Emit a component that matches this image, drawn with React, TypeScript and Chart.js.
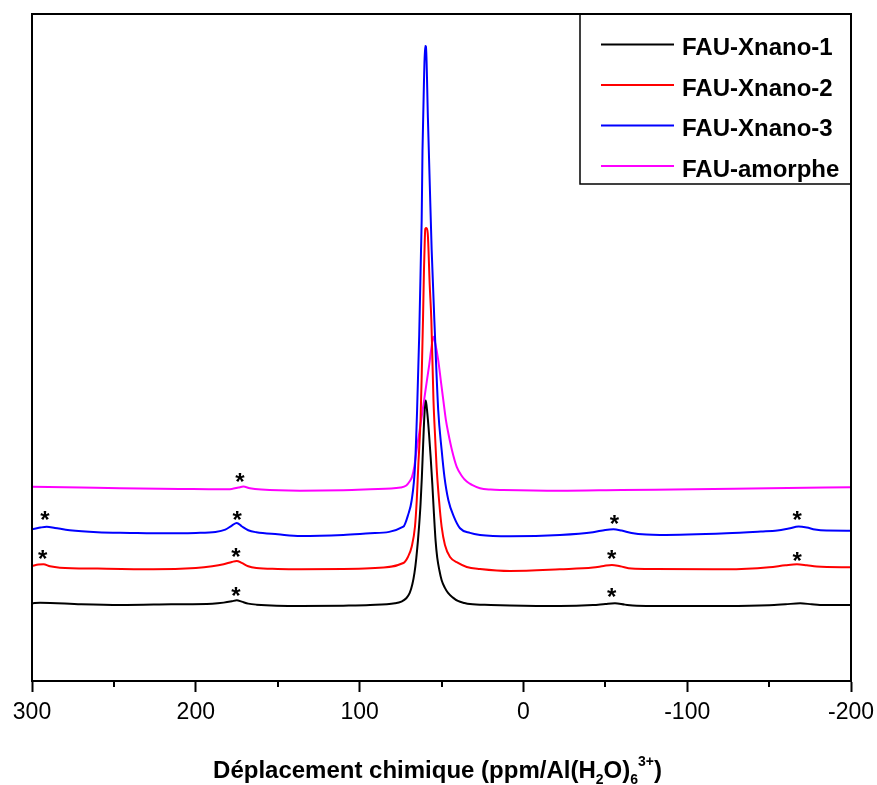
import React, { useEffect, useRef } from 'react';
import { Chart, registerables } from 'chart.js';

Chart.register(...registerables);

const W = 877;
const H = 785;
const FONT = "'Liberation Sans', Arial, sans-serif";

// x-axis ticks (ppm), reversed axis
const X_MIN = -200;
const X_MAX = 300;
const MAJOR_STEP = 100;
const MINOR_TICKS = [250, 150, 50, -50, -150];

// Series labels and colours
const LABELS = ['FAU-Xnano-1', 'FAU-Xnano-2', 'FAU-Xnano-3', 'FAU-amorphe'];
const COLORS = ['#000000', '#ff0000', '#0000ff', '#ff00ff'];

// FAU-Xnano-1 (black)
const PPM_1 = [300, 295, 270, 246, 215, 190, 183, 178, 175, 172, 168, 163, 136, 110, 93.6, 78.4, 74.5, 71.5, 69.4, 67.8, 66.5, 65.4, 64.4, 63.6, 62.8, 62.0, 61.2, 60.4, 59.6, 58.6, 57.6, 56.6, 55.6, 54.6, 53.6, 52.6, 51.3, 49.9, 48.0, 46.0, 43.0, 40.0, 36.0, 32.6, 20, 8.2, -22.3, -42.5, -50, -55.9, -62, -69.2, -100, -124.1, -150, -160, -169, -176, -181, -200];
const INT_1 = [11.65, 11.74, 11.5, 11.39, 11.5, 11.6, 11.75, 11.95, 12.1, 11.9, 11.6, 11.45, 11.24, 11.3, 11.39, 11.65, 11.9, 12.4, 13.2, 14.5, 16.2, 18.4, 21.0, 23.5, 26.5, 30.5, 35.5, 40.0, 42.1, 40.0, 37.0, 33.5, 29.5, 25.0, 21.0, 18.5, 16.6, 15.1, 14.0, 13.2, 12.5, 12.0, 11.7, 11.54, 11.4, 11.32, 11.24, 11.39, 11.55, 11.65, 11.45, 11.29, 11.24, 11.24, 11.35, 11.5, 11.65, 11.5, 11.4, 11.39];

// FAU-Xnano-2 (red)
const PPM_2 = [300, 296, 293, 289, 283, 260, 226, 200, 190, 183, 178, 175, 172, 168, 163, 150, 136, 110, 93.6, 73.3, 70.5, 68.2, 66.2, 65.1, 64.2, 62.8, 62.0, 61.3, 60.7, 60.2, 59.9, 59.2, 58.4, 57.2, 56.2, 54.9, 53.8, 53.0, 51.5, 49.9, 47.9, 44.8, 39.9, 34.6, 26.5, 8.2, -22.3, -42.5, -49, -54, -59, -66, -80, -124, -150, -160, -167, -173, -179, -200];
const INT_2 = [17.24, 17.45, 17.5, 17.2, 16.99, 16.85, 16.75, 16.95, 17.2, 17.5, 17.85, 18.0, 17.7, 17.2, 16.95, 16.8, 16.75, 16.8, 16.9, 17.69, 18.6, 20.13, 23.13, 27.14, 32.13, 39.13, 46.63, 54.12, 61.62, 66.12, 67.77, 67.9, 67.1, 59.4, 54.1, 42.1, 36.1, 32.1, 27.1, 23.1, 20.4, 18.6, 17.7, 17.1, 16.8, 16.5, 16.75, 17.0, 17.25, 17.4, 17.2, 16.85, 16.78, 16.75, 17.05, 17.35, 17.5, 17.35, 17.15, 17.05];

// FAU-Xnano-3 (blue)
const PPM_3 = [300, 295, 291, 286, 277, 260, 240, 226, 200, 188, 182, 178, 175, 172, 168, 163, 150, 136, 110, 93.6, 73.3, 70.4, 68.2, 66.2, 64.9, 63.6, 62.5, 62.1, 61.6, 60.6, 60.0, 59.5, 58.3, 57.2, 56.0, 54.0, 52.0, 49.9, 48.2, 45.8, 42.4, 38.7, 32.6, 26.5, 8.2, -22.3, -42.5, -50, -55, -60, -66, -75, -83.4, -124, -145, -155, -162, -168, -173, -178, -185, -200];
const INT_3 = [22.74, 23.0, 23.13, 22.95, 22.6, 22.3, 22.2, 22.14, 22.2, 22.35, 22.7, 23.3, 23.7, 23.2, 22.6, 22.3, 22.0, 21.74, 21.9, 22.14, 23.13, 24.9, 27.1, 32.1, 40.6, 51.9, 64.6, 69.1, 79.6, 90.9, 95.2, 95.1, 84.4, 74.8, 64.6, 51.9, 40.6, 34.6, 30.6, 27.1, 24.6, 22.9, 22.2, 21.9, 21.7, 21.89, 22.3, 22.65, 22.75, 22.55, 22.2, 21.95, 21.89, 22.14, 22.4, 22.55, 22.85, 23.15, 23.0, 22.7, 22.55, 22.53];

// FAU-amorphe (magenta)
const PPM_4 = [300, 270, 246.3, 210, 185, 178, 174, 171, 167, 160, 136.4, 110, 93.6, 75, 71.5, 69.5, 68.0, 66.5, 65.0, 63.5, 62.0, 60.5, 59.0, 57.5, 56.3, 55.0, 53.8, 52.0, 50.5, 48.9, 47.3, 45.8, 43.6, 40.7, 37.5, 34.6, 31.4, 26.5, 20, 12.5, -22.3, -60, -103.5, -150, -200];
const INT_4 = [29.13, 29.0, 28.89, 28.8, 28.74, 28.8, 29.0, 29.15, 28.9, 28.7, 28.53, 28.6, 28.74, 29.0, 29.3, 29.9, 30.6, 32.3, 35.0, 37.3, 39.8, 42.3, 44.9, 47.4, 49.7, 51.6, 50.6, 48.1, 45.2, 42.1, 39.1, 37.1, 34.6, 32.1, 30.7, 29.9, 29.4, 28.9, 28.7, 28.64, 28.53, 28.64, 28.74, 28.9, 29.04];

// Spinning sideband markers (*)
const STAR_PPM = [175.5, -53.9, 293.5, 175.5, -53.9, -167.2, 292.1, 174.7, -55.5, -167.2, 173.0];
const STAR_INT = [13.0, 12.89, 18.55, 18.89, 18.55, 18.25, 24.39, 24.48, 23.88, 24.39, 30.13];

const SERIES_PPM = [PPM_1, PPM_2, PPM_3, PPM_4];
const SERIES_INT = [INT_1, INT_2, INT_3, INT_4];

const framePlugin = {
  id: 'frameExtras',
  afterDraw(chart: any) {
    const { ctx, chartArea } = chart;
    const xs = chart.scales.x;
    const ys = chart.scales.y;
    const { left, right, top, bottom } = chartArea;
    ctx.save();
    ctx.strokeStyle = '#000';
    ctx.lineWidth = 2;
    // minor ticks
    MINOR_TICKS.forEach((v) => {
      const px = Math.round(xs.getPixelForValue(v));
      ctx.beginPath();
      ctx.moveTo(px, bottom);
      ctx.lineTo(px, bottom + 6);
      ctx.stroke();
    });
    // asterisks
    ctx.fillStyle = '#000';
    ctx.font = `bold 24px ${FONT}`;
    ctx.textAlign = 'center';
    ctx.textBaseline = 'alphabetic';
    STAR_PPM.forEach((p, i) => {
      const px = xs.getPixelForValue(p);
      const py = ys.getPixelForValue(STAR_INT[i]);
      ctx.fillText('*', px, py + 10);
    });
    // legend box
    const bw = 271, bh = 170;
    const bx = right - bw, by = top;
    ctx.fillStyle = '#fff';
    ctx.fillRect(bx, by, bw, bh);
    ctx.lineWidth = 1.5;
    ctx.strokeStyle = '#000';
    ctx.strokeRect(bx, by, bw, bh);
    // frame (left, top, right)
    ctx.lineWidth = 2;
    ctx.beginPath();
    ctx.moveTo(left, bottom);
    ctx.lineTo(left, top);
    ctx.lineTo(right, top);
    ctx.lineTo(right, bottom);
    ctx.stroke();
    // legend entries
    ctx.font = `bold 24px ${FONT}`;
    ctx.textAlign = 'left';
    chart.data.datasets.forEach((ds: any, i: number) => {
      const ly = by + 30.5 + i * 40.5;
      ctx.strokeStyle = ds.borderColor;
      ctx.lineWidth = 2;
      ctx.beginPath();
      ctx.moveTo(bx + 21, ly);
      ctx.lineTo(bx + 94, ly);
      ctx.stroke();
      ctx.fillStyle = '#000';
      ctx.fillText(ds.label, bx + 102, ly + 10.5);
    });
    // axis title with sub/superscripts
    const parts: { t: string; size: number; dy: number }[] = [
      { t: 'Déplacement chimique (ppm/Al(H', size: 24, dy: 0 },
      { t: '2', size: 14, dy: 6 },
      { t: 'O)', size: 24, dy: 0 },
      { t: '6', size: 14, dy: 6 },
      { t: '3+', size: 14, dy: -12 },
      { t: ')', size: 24, dy: 0 },
    ];
    let total = 0;
    parts.forEach((p) => {
      ctx.font = `bold ${p.size}px ${FONT}`;
      total += ctx.measureText(p.t).width;
    });
    let x0 = 437.5 - total / 2;
    const baseY = 778;
    ctx.fillStyle = '#000';
    parts.forEach((p) => {
      ctx.font = `bold ${p.size}px ${FONT}`;
      ctx.fillText(p.t, x0, baseY + p.dy);
      x0 += ctx.measureText(p.t).width;
    });
    ctx.restore();
  },
};

export default function App() {
  const ref = useRef<HTMLCanvasElement>(null);
  useEffect(() => {
    if (!ref.current) return;
    const datasets = LABELS.map((label, i) => ({
      label,
      data: SERIES_PPM[i].map((p, j) => ({ x: p, y: SERIES_INT[i][j] })),
      borderColor: COLORS[i],
      backgroundColor: COLORS[i],
      borderWidth: 2,
      pointRadius: 0,
      fill: false,
      cubicInterpolationMode: 'monotone' as const,
    }));
    const chart = new Chart(ref.current, {
      type: 'line',
      data: { datasets },
      options: {
        animation: false,
        responsive: false,
        maintainAspectRatio: false,
        layout: { padding: { left: 32, right: 26, top: 14, bottom: 0 } },
        plugins: { legend: { display: false }, tooltip: { enabled: false } },
        scales: {
          x: {
            type: 'linear',
            reverse: true,
            min: X_MIN,
            max: X_MAX,
            ticks: {
              stepSize: MAJOR_STEP,
              color: '#000',
              font: { family: FONT, size: 23 },
              padding: 7,
              maxRotation: 0,
              autoSkip: false,
            },
            grid: {
              display: true,
              drawOnChartArea: false,
              drawTicks: true,
              tickLength: 11,
              tickWidth: 2,
              tickColor: '#000',
            },
            border: { display: true, color: '#000', width: 2 },
            afterFit: (s: any) => {
              s.height = 104;
              s.paddingLeft = 0;
              s.paddingRight = 0;
            },
          },
          y: { display: false, min: 0, max: 100 },
        },
      },
      plugins: [framePlugin],
    });
    return () => chart.destroy();
  }, []);
  return (
    <div style={{ position: 'absolute', left: 0, top: 0, width: W, height: H, background: '#fff' }}>
      <canvas ref={ref} width={W} height={H} style={{ width: W, height: H, display: 'block' }} />
    </div>
  );
}
